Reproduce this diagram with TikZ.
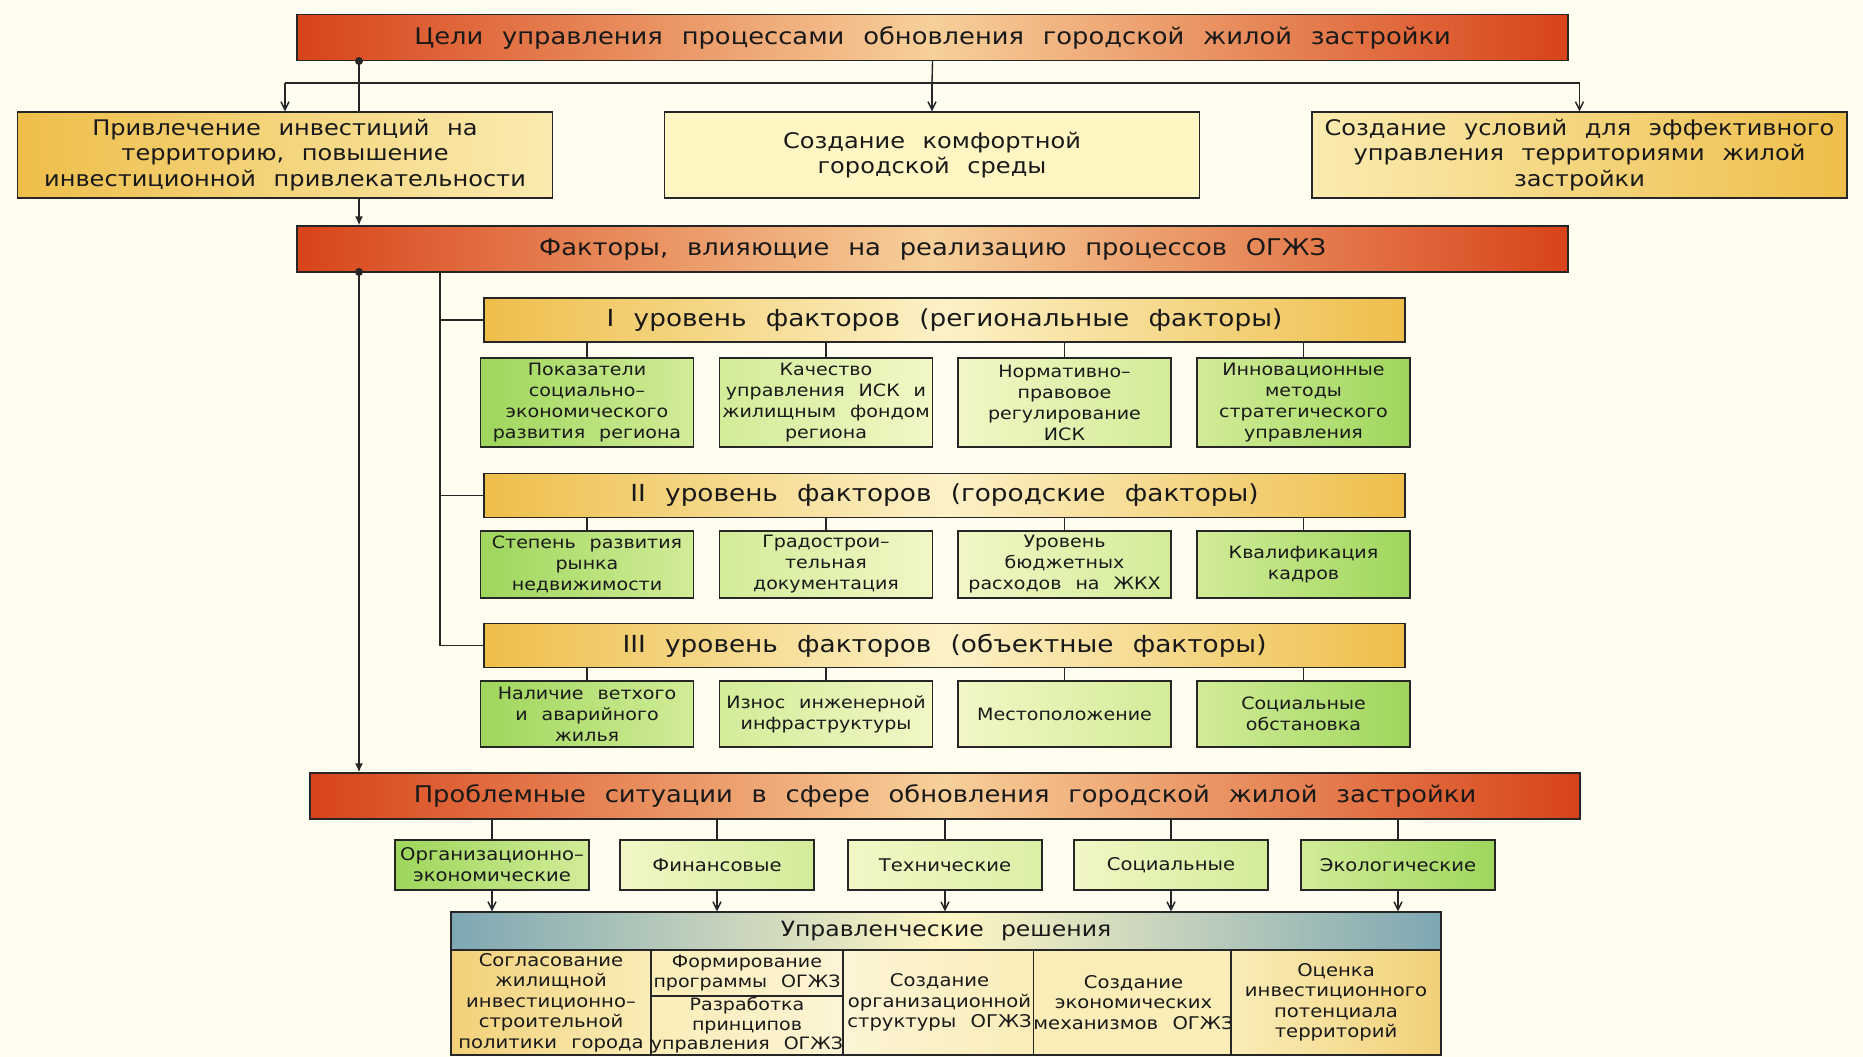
\documentclass[tikz,border=0pt]{standalone}
\usepackage{fontspec}
\setmainfont{DejaVu Sans}[FakeStretch=1.12,WordSpace=2.3]
\usetikzlibrary{arrows.meta}
\definecolor{bg}{HTML}{FFFCF0}
\definecolor{redd}{HTML}{D8431A}
\definecolor{peach}{HTML}{F7D09A}
\definecolor{gold}{HTML}{EEBE4A}
\definecolor{lgold}{HTML}{FBEBB0}
\definecolor{paley}{HTML}{FFF6C4}
\definecolor{grn}{HTML}{9ED65C}
\definecolor{mgrn}{HTML}{D2EC98}
\definecolor{lgrn}{HTML}{F2F7C6}
\definecolor{blug}{HTML}{7EA7B3}
\definecolor{ln}{HTML}{262626}
\definecolor{tgold}{HTML}{F2D078}
\definecolor{tlight}{HTML}{FAEDB8}
\begin{document}
\begin{tikzpicture}[x=1pt,y=-1pt,
  box/.style={draw=ln, line width=1.4pt, rectangle, inner sep=0pt, align=center, text=black!90},
  redbar/.style={box, left color=redd, right color=redd, middle color=peach,
     minimum width=1271, minimum height=46, font=\fontsize{23}{27}\selectfont},
  topbox/.style={box, minimum width=535, minimum height=86, font=\fontsize{21.5}{25.5}\selectfont},
  lvl/.style={box, left color=gold, right color=gold, middle color=lgold!70!white,
     minimum width=921, minimum height=44, font=\fontsize{23.5}{27}\selectfont},
  gbox/.style={box, minimum width=213, font=\fontsize{17}{21}\selectfont},
  qbox/.style={box, minimum width=194, minimum height=50, font=\fontsize{17.5}{21}\selectfont},
  cell/.style={box, minimum height=105, font=\fontsize{17.5}{20.5}\selectfont},
  conn/.style={draw=ln, line width=1.4pt},
  va/.style={conn, -{Straight Barb[length=8pt,width=8pt,line width=1.4pt]}},
  fa/.style={conn, -{Latex[length=9pt,width=8pt]}},
  dot/.style={circle, fill=ln, inner sep=0pt, minimum size=8pt}
]
\fill[bg] (0,0) rectangle (1863,1057);
\useasboundingbox (0,0) rectangle (1863,1057);

% top
\node[redbar] (t1) at (932.5,37.5) {Цели управления процессами обновления городской жилой застройки};
\node[topbox, left color=gold, right color=lgold] (b1) at (285,155) {Привлечение инвестиций на\\территорию, повышение\\инвестиционной привлекательности};
\node[topbox, fill=paley] (b2) at (932,155) {Создание комфортной\\городской среды};
\node[topbox, left color=lgold, right color=gold] (b3) at (1579.5,155) {Создание условий для эффективного\\управления территориями жилой\\застройки};

\node[redbar] (f) at (932.5,249) {Факторы, влияющие на реализацию процессов ОГЖЗ};

\coordinate (j1) at (932,83);
\draw[conn] (t1.south) -- (j1);
\draw[conn] (b1.north |- j1) -- (b3.north |- j1);
\draw[va] (j1) -- (b2.north);
\draw[va] (b1.north |- j1) -- (b1.north);
\draw[va] (b3.north |- j1) -- (b3.north);

\node[dot] (d1) at (359,61) {};
\draw[conn] (d1.center) -- (b1.north -| d1);
\draw[fa] (b1.south -| d1) -- (f.north -| d1);

% levels
\node[lvl] (l1) at (944.5,320) {I уровень факторов (региональные факторы)};
\node[lvl] (l2) at (944.5,495.5) {II уровень факторов (городские факторы)};
\node[lvl] (l3) at (944.5,645.5) {III уровень факторов (объектные факторы)};

\coordinate (v2) at (440,272);
\draw[conn] (v2) -- (l3.west -| v2) -- (l3.west);
\draw[conn] (l1.west -| v2) -- (l1.west);
\draw[conn] (l2.west -| v2) -- (l2.west);

% level I boxes
\node[gbox, minimum height=89, left color=grn, right color=mgrn] (g11) at (587,402.5) {Показатели\\социально–\\экономического\\развития региона};
\node[gbox, minimum height=89, left color=mgrn, right color=lgrn] (g12) at (826,402.5) {Качество\\управления ИСК и\\жилищным фондом\\региона};
\node[gbox, minimum height=89, left color=lgrn, right color=mgrn] (g13) at (1064.5,402.5) {Нормативно–\\правовое\\регулирование\\ИСК};
\node[gbox, minimum height=89, left color=mgrn, right color=grn] (g14) at (1303.5,402.5) {Инновационные\\методы\\стратегического\\управления};
% level II boxes
\node[gbox, minimum height=67, left color=grn, right color=mgrn] (g21) at (587,564.5) {Степень развития\\рынка\\недвижимости};
\node[gbox, minimum height=67, left color=mgrn, right color=lgrn] (g22) at (826,564.5) {Градострои–\\тельная\\документация};
\node[gbox, minimum height=67, left color=lgrn, right color=mgrn] (g23) at (1064.5,564.5) {Уровень\\бюджетных\\расходов на ЖКХ};
\node[gbox, minimum height=67, left color=mgrn, right color=grn] (g24) at (1303.5,564.5) {Квалификация\\кадров};
% level III boxes
\node[gbox, minimum height=66, left color=grn, right color=mgrn] (g31) at (587,714) {Наличие ветхого\\и аварийного\\жилья};
\node[gbox, minimum height=66, left color=mgrn, right color=lgrn] (g32) at (826,714) {Износ инженерной\\инфраструктуры};
\node[gbox, minimum height=66, left color=lgrn, right color=mgrn] (g33) at (1064.5,714) {Местоположение};
\node[gbox, minimum height=66, left color=mgrn, right color=grn] (g34) at (1303.5,714) {Социальные\\обстановка};

\foreach \l/\r in {l1/1,l2/2,l3/3}{
  \foreach \c in {1,2,3,4}{
    \draw[conn] (\l.south -| g\r\c.north) -- (g\r\c.north);
  }
}

% problems
\node[redbar, minimum width=1270] (p) at (945,796) {Проблемные ситуации в сфере обновления городской жилой застройки};
\node[dot] (d2) at (359,272) {};
\draw[fa] (d2.center) -- (p.north -| d2);

\node[qbox, left color=grn, right color=mgrn] (q1) at (492,865) {Организационно–\\экономические};
\node[qbox, left color=lgrn, right color=mgrn] (q2) at (717,865) {Финансовые};
\node[qbox, left color=lgrn, right color=mgrn!70!lgrn] (q3) at (945,865) {Технические};
\node[qbox, left color=lgrn, right color=mgrn] (q4) at (1171,865) {Социальные};
\node[qbox, left color=mgrn, right color=grn] (q5) at (1398,865) {Экологические};

\node[box, left color=blug, right color=blug, middle color=paley, minimum width=990, minimum height=38,
  font=\fontsize{21}{25}\selectfont] (h) at (946,931) {Управленческие решения};

\foreach \i in {1,...,5}{
  \draw[conn] (p.south -| q\i.north) -- (q\i.north);
  \draw[va] (q\i.south) -- (h.north -| q\i.south);
}

% table
\node[cell, minimum width=200, left color=tgold, right color=tlight] (c1) at (551,1002.5) {Согласование\\жилищной\\инвестиционно–\\строительной\\политики города};
\node[box, minimum width=192, minimum height=46, left color=tlight, right color=tlight!60!white,
  font=\fontsize{17}{20}\selectfont] (c2a) at (747,973) {Формирование\\программы ОГЖЗ};
\node[box, minimum width=192, minimum height=59, left color=tlight, right color=tlight!60!white,
  font=\fontsize{17}{19.5}\selectfont] (c2b) at (747,1025.5) {Разработка\\принципов\\управления ОГЖЗ};
\node[cell, minimum width=193, left color=tlight!60!white, right color=tlight] (c3) at (939.5,1002.5) {Создание\\организационной\\структуры ОГЖЗ};
\node[cell, minimum width=195, left color=tlight, right color=tlight] (c4) at (1133.5,1002.5) {Создание\\экономических\\механизмов ОГЖЗ};
\node[cell, minimum width=210, left color=tlight, right color=tgold] (c5) at (1336,1002.5) {Оценка\\инвестиционного\\потенциала\\территорий};
\end{tikzpicture}
\end{document}
